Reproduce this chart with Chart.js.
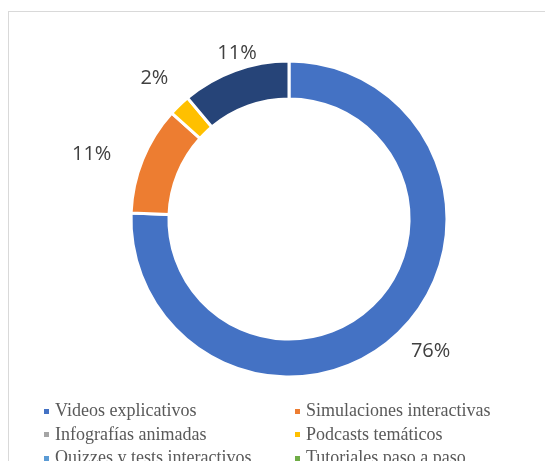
<!DOCTYPE html>
<html>
<head>
<meta charset="utf-8">
<script src="https://cdn.jsdelivr.net/npm/chart.js@4/dist/chart.umd.min.js"></script>
<style>
  html, body { margin: 0; padding: 0; background: #fff; overflow: hidden; }
  #wrap { position: relative; width: 545px; height: 461px; overflow: hidden; }
  #frame { position: absolute; left: 8px; top: 11px; width: 600px; height: 500px;
           border-top: 1px solid #d9d9d9; border-left: 1px solid #d9d9d9; box-sizing: border-box; }
  #c { position: absolute; left: 0; top: 0; }
  #legend { position: absolute; left: 0; top: 0; width: 545px; height: 461px; pointer-events: none;
            font-family: "Liberation Serif", "Times New Roman", serif; font-size: 18px; color: #595959; }
  .item { position: absolute; white-space: nowrap; line-height: 20px; }
  .mk { position: absolute; width: 5px; height: 5px; }
</style>
</head>
<body>
<div id="wrap">
  <div id="frame"></div>
  <canvas id="c" width="545" height="461"></canvas>
  <div id="legend"></div>
</div>
<script>
const categories = [
  "Videos explicativos",
  "Simulaciones interactivas",
  "Infografías animadas",
  "Podcasts temáticos",
  "Quizzes y tests interactivos",
  "Tutoriales paso a paso",
  "Otros recursos"
];
const values = [75.6, 11.1, 0, 2.2, 0, 0, 11.1];
const colors = ["#4472C4", "#ED7D31", "#A5A5A5", "#FFC000", "#5B9BD5", "#70AD47", "#264478"];
// label offset (px) from each slice's outer-edge midpoint
const labelOffsets = [[32, 18], [-51, -5], [0, 0], [-25, -27], [0, 0], [0, 0], [2, -17]];

const total = values.reduce((a, b) => a + b, 0);

const labelPlugin = {
  id: 'outsideLabels',
  afterDatasetsDraw(chart) {
    const ctx = chart.ctx;
    const meta = chart.getDatasetMeta(0);
    ctx.save();
    ctx.font = '20px "Open Sans", "Noto Sans", sans-serif';
    ctx.fillStyle = '#404040';
    ctx.textAlign = 'center';
    ctx.textBaseline = 'middle';
    meta.data.forEach((arc, i) => {
      const v = values[i];
      if (!v) return;
      const p = arc.getProps(['x', 'y', 'startAngle', 'endAngle', 'outerRadius'], true);
      const mid = (p.startAngle + p.endAngle) / 2;
      const ex = p.x + Math.cos(mid) * p.outerRadius;
      const ey = p.y + Math.sin(mid) * p.outerRadius;
      const txt = Math.round(v / total * 100) + '%';
      ctx.fillText(txt, ex + labelOffsets[i][0], ey + labelOffsets[i][1]);
    });
    ctx.restore();
  }
};

new Chart(document.getElementById('c'), {
  type: 'doughnut',
  data: {
    labels: categories,
    datasets: [{
      data: values,
      backgroundColor: colors,
      borderColor: '#ffffff',
      borderWidth: 3,
      hoverOffset: 0
    }]
  },
  options: {
    responsive: false,
    devicePixelRatio: 1,
    animation: false,
    radius: 158,
    cutout: '76%',
    layout: { padding: { left: 33, right: 0, top: 0, bottom: 23 } },
    plugins: {
      legend: { display: false },
      tooltip: { enabled: false }
    }
  },
  plugins: [labelPlugin]
});

// HTML legend, two columns
const legend = document.getElementById('legend');
const colX = [44, 295];
const rowY = [411, 434.5, 458];
categories.slice(0, 6).forEach((name, i) => {
  const col = i % 2, row = Math.floor(i / 2);
  const mk = document.createElement('div');
  mk.className = 'mk';
  mk.style.background = colors[i];
  mk.style.left = colX[col] + 'px';
  mk.style.top = (rowY[row] - 2.5) + 'px';
  legend.appendChild(mk);
  const t = document.createElement('div');
  t.className = 'item';
  t.textContent = name;
  t.style.left = (colX[col] + 11) + 'px';
  t.style.top = (rowY[row] - 11) + 'px';
  legend.appendChild(t);
});
</script>
</body>
</html>
